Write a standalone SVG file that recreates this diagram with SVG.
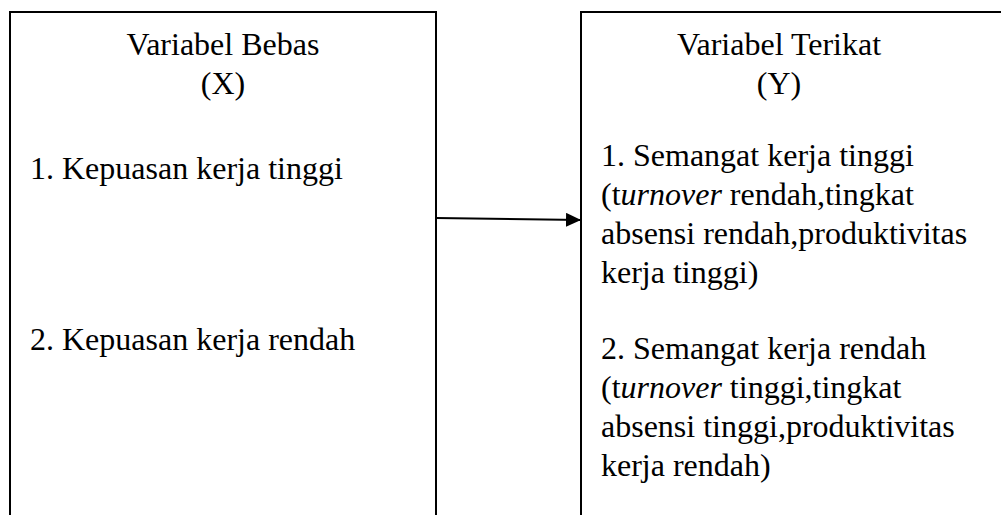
<svg xmlns="http://www.w3.org/2000/svg" width="1001" height="515" viewBox="0 0 1001 515">
<style>
.box{fill:#fff;stroke:#000;stroke-width:2}
.t{font-family:'Liberation Serif',Tinos,'Times New Roman','Nimbus Roman','DejaVu Serif',serif;font-size:32px;fill:#000}
.c{text-anchor:middle}
.i{font-style:italic}
.conn{stroke:#000;stroke-width:2;fill:none}
</style>
<defs>
<marker id="arr" markerUnits="userSpaceOnUse" markerWidth="16" markerHeight="16" refX="15" refY="7" orient="auto">
<path d="M0,0 L15,7 L0,14 Z" fill="#000"/>
</marker>
</defs>
<g id="node-x">
<rect class="box" x="10" y="12" width="426" height="600"/>
<text class="t c" x="223" y="55">Variabel Bebas</text>
<text class="t c" x="223" y="94">(X)</text>
<text class="t" x="30" y="179">1. Kepuasan kerja tinggi</text>
<text class="t" x="30" y="350">2. Kepuasan kerja rendah</text>
</g>
<g id="node-y">
<rect class="box" x="581" y="12" width="500" height="600"/>
<text class="t c" x="779" y="55">Variabel Terikat</text>
<text class="t c" x="779" y="94">(Y)</text>
<text class="t" x="601" y="166">1. Semangat kerja tinggi</text>
<text class="t" x="601" y="205">(t<tspan class="i">urnover</tspan> rendah,tingkat</text>
<text class="t" x="601" y="244">absensi rendah,produktivitas</text>
<text class="t" x="601" y="283">kerja tinggi)</text>
<text class="t" x="601" y="359">2. Semangat kerja rendah</text>
<text class="t" x="601" y="398">(t<tspan class="i">urnover</tspan> tinggi,tingkat</text>
<text class="t" x="601" y="437">absensi tinggi,produktivitas</text>
<text class="t" x="601" y="476">kerja rendah)</text>
</g>
<g id="connectors">
<line class="conn" x1="436" y1="218" x2="581" y2="220" marker-end="url(#arr)"/>
</g>
</svg>
